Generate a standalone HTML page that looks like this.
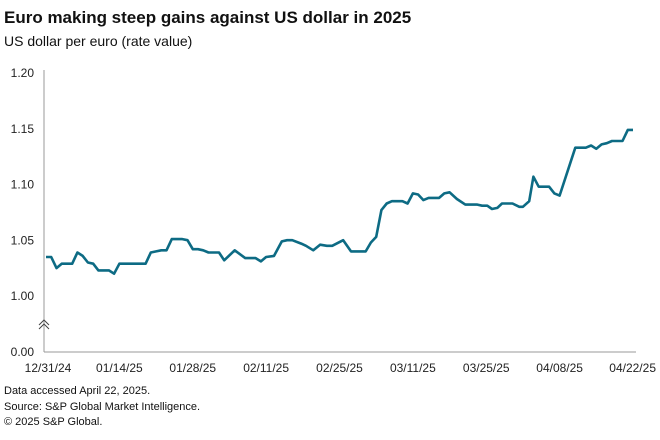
<!DOCTYPE html>
<html><head><meta charset="utf-8"><style>
body{margin:0;background:#fff;font-family:"Liberation Sans",sans-serif;}
#c{position:relative;width:660px;height:440px;overflow:hidden;}
.t{position:absolute;left:4px;color:#111;white-space:nowrap;}
</style></head><body>
<div id="c">
<div class="t" style="top:8px;font-size:17px;font-weight:bold;">Euro making steep gains against US dollar in 2025</div>
<div class="t" style="top:33px;font-size:14px;">US dollar per euro (rate value)</div>
<svg id="s" width="660" height="440" style="position:absolute;left:0;top:0"></svg>
<div class="t" style="top:385px;font-size:11px;">Data accessed April 22, 2025.</div>
<div class="t" style="top:401px;font-size:11px;">Source: S&amp;P Global Market Intelligence.</div>
<div class="t" style="top:416px;font-size:11px;">© 2025 S&amp;P Global.</div>
</div>
<script>
const days=[0,1,2,3,5,6,7,8,9,10,12,13,14,17,19,20,21,22,23,24,26,27,28,29,30,31,33,34,36,38,40,41,42,43.5,45,46,47,48.7,49.6,51,52.3,53.6,54.6,56.7,58.2,61,62,63,64,65,66,68,69,70,71,72,73,75,76,77,78.4,80,82.3,83.2,84.2,85.1,86.1,87,89,90.3,91,92.2,93,94,96,97,98,101,103,104,105,106,107,108,110,111,112];
const values=[1.035,1.035,1.025,1.029,1.029,1.039,1.036,1.030,1.029,1.023,1.023,1.020,1.029,1.029,1.029,1.039,1.040,1.041,1.041,1.051,1.051,1.050,1.042,1.042,1.041,1.039,1.039,1.032,1.041,1.034,1.034,1.031,1.035,1.036,1.049,1.050,1.050,1.047,1.045,1.041,1.046,1.045,1.045,1.050,1.040,1.040,1.048,1.053,1.077,1.083,1.085,1.085,1.083,1.092,1.091,1.086,1.088,1.088,1.092,1.093,1.087,1.082,1.082,1.081,1.081,1.078,1.079,1.083,1.083,1.080,1.080,1.085,1.107,1.098,1.098,1.092,1.090,1.133,1.133,1.135,1.132,1.136,1.137,1.139,1.139,1.149,1.149];
const yTicks=[0,1.00,1.05,1.10,1.15,1.20];
const yTickLabels=["0.00","1.00","1.05","1.10","1.15","1.20"];
const xTicks=[0,14,28,42,56,70,84,98,112];
const xTickLabels=["12/31/24","01/14/25","01/28/25","02/11/25","02/25/25","03/11/25","03/25/25","04/08/25","04/22/25"];
const NS="http://www.w3.org/2000/svg",s=document.getElementById('s');
const x=d=>46+d*(587/112);
const y=v=>v<0.5?352-v*56:296-(v-1)*(223/0.2);
function mk(t,a){const e=document.createElementNS(NS,t);for(const k in a)e.setAttribute(k,a[k]);s.appendChild(e);return e;}
let e=mk('line',{x1:44,y1:70,x2:44,y2:352,stroke:'#999','stroke-width':1});


e=mk('line',{x1:44,y1:352,x2:636,y2:352,stroke:'#999','stroke-width':1});


e=mk('path',{d:'M39,325 l5,-5 l5,5 M39,329 l5,-5 l5,5',fill:'none',stroke:'#444','stroke-width':1});


yTicks.forEach((v,i)=>{const t=mk('text',{x:34,y:y(v)+4,'text-anchor':'end','font-size':12,fill:'#222','font-family':'Liberation Sans, sans-serif'});t.textContent=yTickLabels[i];

});
xTicks.forEach((d,i)=>{const last=i===xTicks.length-1;const t=mk('text',{x:last?656:(i===0?x(d)+2:x(d)),y:372,'text-anchor':last?'end':'middle','font-size':12,fill:'#222','font-family':'Liberation Sans, sans-serif'});t.textContent=xTickLabels[i];

});
const p=mk('polyline',{points:days.map((d,i)=>x(d).toFixed(1)+','+y(values[i]).toFixed(1)).join(' '),fill:'none',stroke:'#0d6b84','stroke-width':2.6,'stroke-linejoin':'round'});


</script>
</body></html>
